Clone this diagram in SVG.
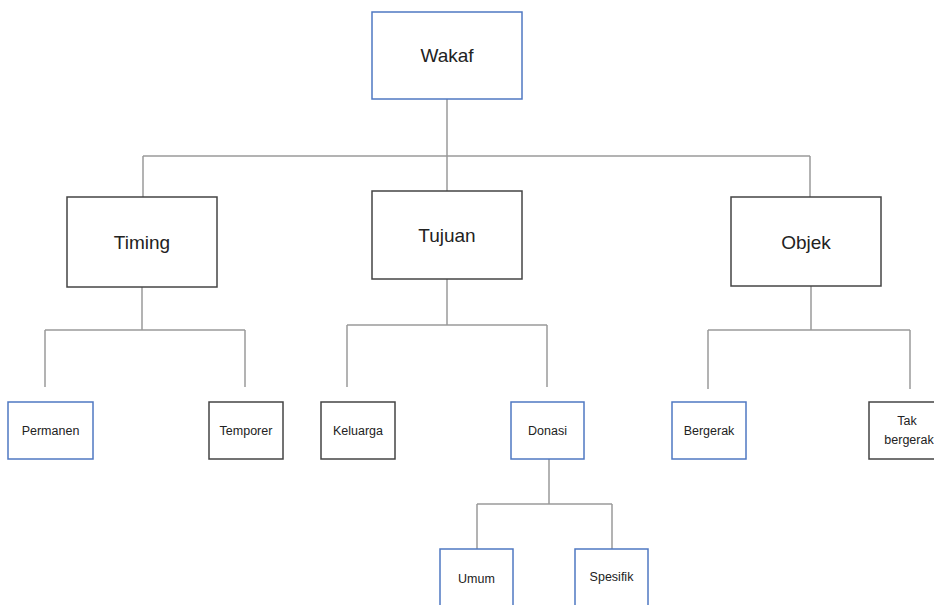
<svg xmlns="http://www.w3.org/2000/svg" width="934" height="605" viewBox="0 0 934 605">
<style>
.bx{fill:#fff;stroke-width:1.5}
.blue{stroke:#4f78c2}
.dark{stroke:#444}
.lg{font-family:"Liberation Sans",Arial,sans-serif;font-size:19px;fill:#222;text-anchor:middle}
.sm{font-family:"Liberation Sans",Arial,sans-serif;font-size:12.5px;fill:#222;text-anchor:middle}
.cn{fill:none;stroke:#9a9a9a;stroke-width:1.5}
</style>
<rect width="934" height="605" fill="#fff"/>
<g id="connectors" class="cn">
<path d="M447 99V156M143 156H810M143 156V197M447 156V191M810 156V197"/>
<path d="M142 287V330M45 330H245M45 330V387M245 330V387"/>
<path d="M447 279V325M347 325H547M347 325V387M547 325V387"/>
<path d="M811 286V330M708 330H910M708 330V389M910 330V389"/>
<path d="M549 459V504M477 504H612M477 504V549M612 504V549"/>
</g>
<g id="wakaf"><rect class="bx blue" x="372" y="12" width="150" height="87"/><text class="lg" x="447" y="62">Wakaf</text></g>
<g id="timing"><rect class="bx dark" x="67" y="197" width="150" height="90"/><text class="lg" x="142" y="249">Timing</text></g>
<g id="tujuan"><rect class="bx dark" x="372" y="191" width="150" height="88"/><text class="lg" x="447" y="242">Tujuan</text></g>
<g id="objek"><rect class="bx dark" x="731" y="197" width="150" height="89"/><text class="lg" x="806" y="249">Objek</text></g>
<g id="permanen"><rect class="bx blue" x="8" y="402" width="85" height="57"/><text class="sm" x="50.5" y="435">Permanen</text></g>
<g id="temporer"><rect class="bx dark" x="209" y="402" width="74" height="57"/><text class="sm" x="246" y="435">Temporer</text></g>
<g id="keluarga"><rect class="bx dark" x="321" y="402" width="74" height="57"/><text class="sm" x="358" y="435">Keluarga</text></g>
<g id="donasi"><rect class="bx blue" x="511" y="402" width="73" height="57"/><text class="sm" x="547.5" y="435">Donasi</text></g>
<g id="bergerak"><rect class="bx blue" x="672" y="402" width="74" height="57"/><text class="sm" x="709" y="435">Bergerak</text></g>
<g id="takbergerak"><rect class="bx dark" x="869" y="402" width="78" height="57"/><text class="sm" x="907" y="425">Tak</text><text class="sm" x="909" y="444">bergerak</text></g>
<g id="umum"><rect class="bx blue" x="440" y="549" width="73" height="70"/><text class="sm" x="476.5" y="583">Umum</text></g>
<g id="spesifik"><rect class="bx blue" x="575" y="549" width="73" height="70"/><text class="sm" x="611.5" y="581">Spesifik</text></g>
</svg>
